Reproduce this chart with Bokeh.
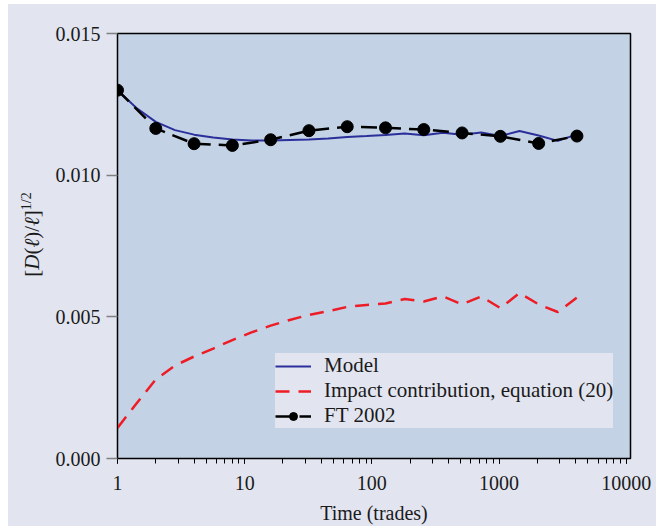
from bokeh.plotting import figure
from bokeh.layouts import row
from bokeh.models import Div, Legend, LegendItem, NumeralTickFormatter, FixedTicker
from bokeh.embed import file_html
from bokeh.resources import INLINE

# --- data ---
ft_x = [1, 2, 4, 8, 16, 32, 64, 128, 256, 512, 1024, 2048, 4096]
ft_y = [0.01300, 0.01165, 0.01111, 0.01105, 0.01125, 0.01157, 0.01171,
        0.01167, 0.01161, 0.01149, 0.01137, 0.01112, 0.01138]

model_x = [1, 1.41, 2, 2.83, 4, 5.66, 8, 11.3, 16, 22.6, 32, 45.3, 64, 90.5,
           128, 181, 256, 362, 512, 724, 1024, 1448, 2048, 2896, 4096]
model_y = [0.01300, 0.01237, 0.01188, 0.01159, 0.01143, 0.01133, 0.01126,
           0.01122, 0.01122, 0.01124, 0.01126, 0.01129, 0.01135, 0.01138,
           0.01142, 0.01147, 0.01141, 0.01150, 0.01143, 0.01151, 0.01138,
           0.01156, 0.01140, 0.01121, 0.01144]
impact_y = [0.00108, 0.00194, 0.00279, 0.00328, 0.00360, 0.00388, 0.00418,
            0.00445, 0.00469, 0.00489, 0.00507, 0.00520, 0.00535, 0.00542,
            0.00547, 0.00563, 0.00554, 0.00572, 0.00544, 0.00572, 0.00531,
            0.00584, 0.00544, 0.00517, 0.00568]

y_ticks = [0.0, 0.005, 0.010, 0.015]
x_labels = {1: "1", 10: "10", 100: "100", 1000: "1000", 10000: "10000"}
x_title = "Time (trades)"

OUTER = "#e2e5f0"
INNER = "#c3d2e5"
FONT = "Liberation Serif"
TXT = "#1a1a1a"

p = figure(x_axis_type="log", x_range=(1, 10800), y_range=(0, 0.015),
           frame_width=513, frame_height=425,
           min_border_left=61, min_border_right=26,
           min_border_top=29, min_border_bottom=68,
           output_backend="svg", toolbar_location=None,
           margin=(0, 0, 0, 0))
p.background_fill_color = INNER
p.border_fill_color = OUTER
p.outline_line_color = "black"
p.outline_line_width = 1.5
p.grid.visible = False

# y axis
p.yaxis.ticker = FixedTicker(ticks=y_ticks)
p.yaxis.formatter = NumeralTickFormatter(format="0.000")
p.yaxis.major_tick_out = 11
p.yaxis.major_tick_in = 0
p.yaxis.minor_tick_line_color = None
p.yaxis.major_tick_line_color = "#808080"
p.yaxis.major_tick_line_width = 1.5
p.yaxis.axis_line_color = "black"
p.yaxis.major_label_standoff = 6

# x axis
p.xaxis.formatter = NumeralTickFormatter(format="0")
p.xaxis.major_label_overrides = x_labels
p.xaxis.major_tick_out = 5
p.xaxis.major_tick_in = 0
p.xaxis.minor_tick_out = 5
p.xaxis.minor_tick_in = 0
p.xaxis.major_tick_line_color = "black"
p.xaxis.minor_tick_line_color = "black"
p.xaxis.axis_line_color = "black"
p.xaxis.major_label_standoff = 12
p.xaxis.axis_label = x_title
p.xaxis.axis_label_text_font = FONT
p.xaxis.axis_label_text_font_size = "20px"
p.xaxis.axis_label_text_font_style = "normal"
p.xaxis.axis_label_text_color = TXT
p.xaxis.axis_label_standoff = 9

for ax in (p.xaxis, p.yaxis):
    ax.major_label_text_font = FONT
    ax.major_label_text_font_size = "20px"
    ax.major_label_text_color = TXT

# glyphs
r_model = p.line(model_x, model_y, line_color="#2b2f9a", line_width=2)
r_imp = p.line(model_x, impact_y, line_color="#ee1c25", line_width=2.5,
               line_dash="14 9")
r_ft_line = p.line(ft_x, ft_y, line_color="black", line_width=2.5,
                   line_dash="16 8")
r_ft_pts = p.scatter(ft_x, ft_y, size=12, fill_color="black", line_color="black")

legend = Legend(items=[
    LegendItem(label="Model", renderers=[r_model]),
    LegendItem(label="Impact contribution, equation (20)", renderers=[r_imp]),
    LegendItem(label="FT 2002", renderers=[r_ft_line, r_ft_pts]),
], location=(158, 30))
legend.background_fill_color = OUTER
legend.background_fill_alpha = 1
legend.border_line_color = None
legend.label_text_font = FONT
legend.label_text_font_size = "21px"
legend.label_text_color = TXT
legend.glyph_width = 36
legend.glyph_height = 20
legend.label_height = 20
legend.label_standoff = 13
legend.spacing = 0
legend.padding = 9
legend.margin = 0
p.add_layout(legend)

# y-axis title with italic D and superscript, as real text
ylab_html = (
    '<div style="width:44px;height:460px;display:flex;align-items:center;'
    'justify-content:center;padding-left:2px;box-sizing:border-box;">'
    '<span style="display:inline-block;transform:rotate(-90deg);white-space:nowrap;'
    "font-family:'Liberation Serif';font-size:21px;color:#1a1a1a;line-height:1;\">"
    '[<i>D</i>(<i>&#8467;</i>)/<i>&#8467;</i>]'
    '<sup style="font-size:14px;">1/2</sup></span></div>'
)
ylab = Div(text=ylab_html, width=44, height=522, margin=(0, 0, 0, 0),
           styles={"background-color": OUTER})

layout = row(ylab, p, spacing=0, margin=(4, 0, 0, 8),
             styles={"background-color": OUTER})
open("out.html", "w").write(file_html(layout, INLINE))
